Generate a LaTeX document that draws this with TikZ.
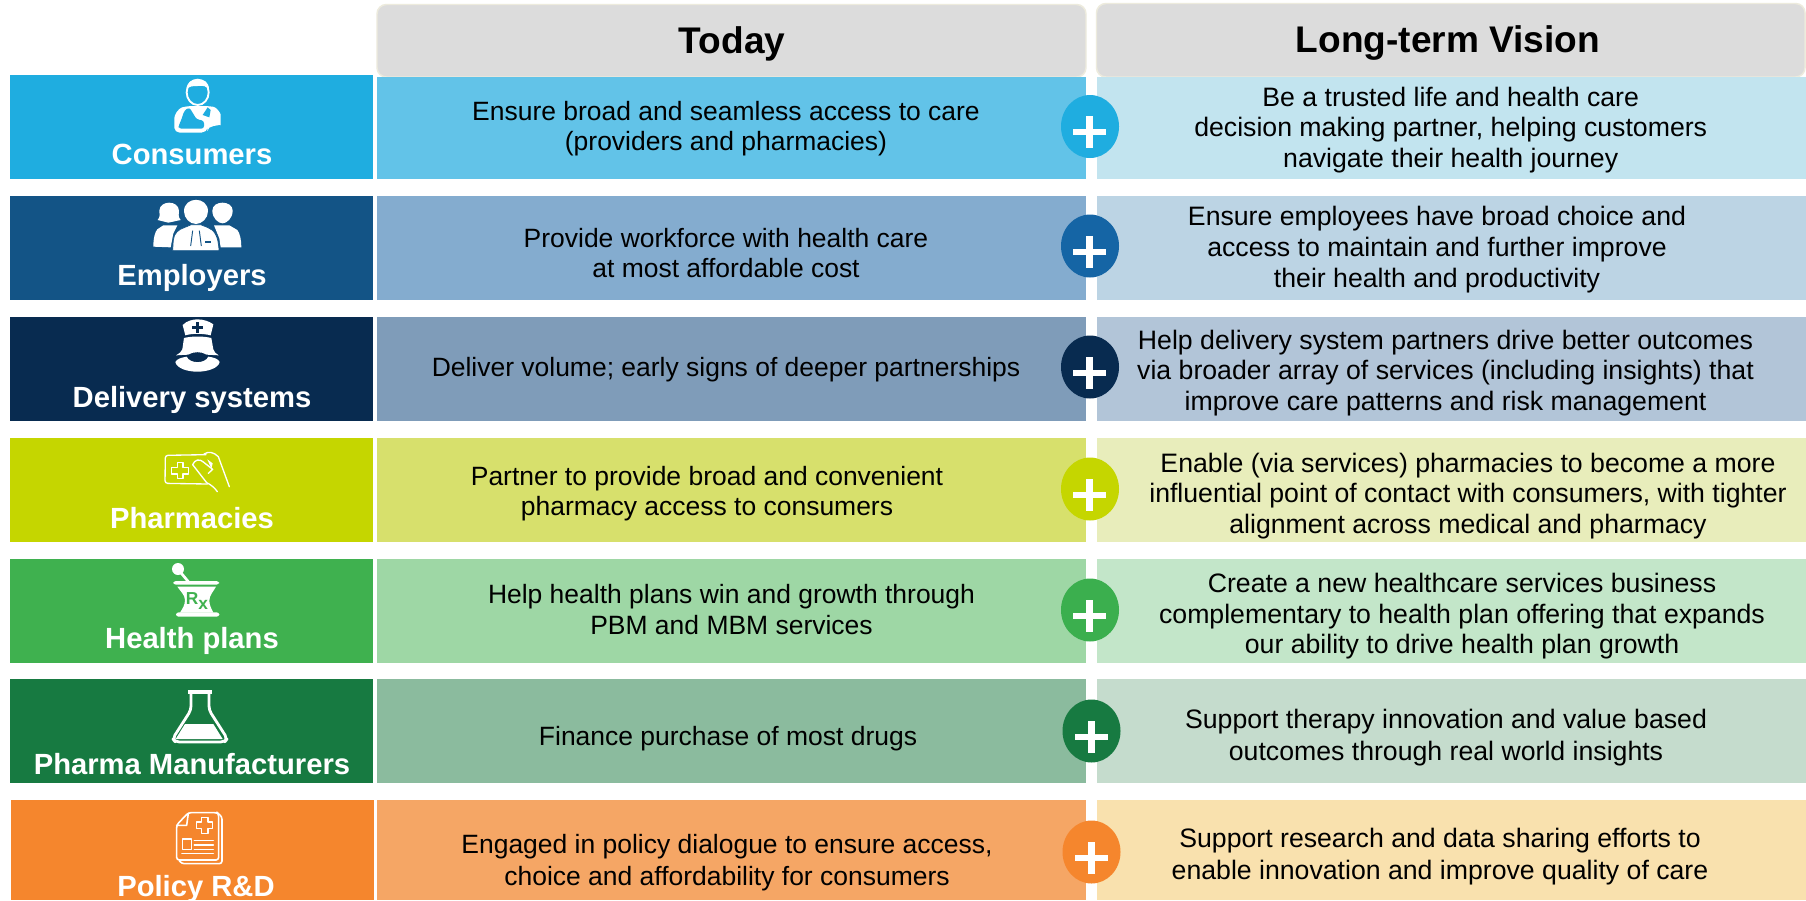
\documentclass[tikz,border=0pt]{standalone}
\usepackage{fontspec}
\setmainfont{Liberation Sans}
\definecolor{cA}{HTML}{1FADE0}\definecolor{cB}{HTML}{135486}\definecolor{cC}{HTML}{082B50}\definecolor{cD}{HTML}{C5D600}\definecolor{cE}{HTML}{3FB14F}\definecolor{cF}{HTML}{177A41}\definecolor{cG}{HTML}{F5862D}
\definecolor{mA}{HTML}{62C3E8}\definecolor{mB}{HTML}{84ACCF}\definecolor{mC}{HTML}{7F9CB9}\definecolor{mD}{HTML}{D7E06C}\definecolor{mE}{HTML}{9ED7A5}\definecolor{mF}{HTML}{8BBB9E}\definecolor{mG}{HTML}{F5A665}
\definecolor{rA}{HTML}{C2E4EF}\definecolor{rB}{HTML}{BCD4E4}\definecolor{rC}{HTML}{B2C5D8}\definecolor{rD}{HTML}{E8EDBB}\definecolor{rE}{HTML}{C3E6C9}\definecolor{rF}{HTML}{C5DCCD}\definecolor{rG}{HTML}{F9E1AE}
\definecolor{pB}{HTML}{1565A5}\definecolor{pE}{HTML}{3BAF4E}
\definecolor{headfill}{HTML}{DCDCDC}\definecolor{headline}{HTML}{EDEBDD}
\tikzset{
 bodytext/.style={anchor=north,inner sep=0pt,align=center,text=black,font=\fontsize{19.85pt}{23pt}\selectfont},
 visiontext/.style={bodytext,font=\fontsize{20pt}{23pt}\selectfont},
 rowlabel/.style={anchor=base,inner sep=0pt,text=white,font=\fontsize{21.9pt}{26pt}\selectfont\bfseries},
 headtext/.style={anchor=base,inner sep=0pt,text=black,font=\fontsize{27.8pt}{30pt}\selectfont\bfseries},
 headbox/.style={fill=headfill,draw=headline,line width=1.1pt,rounded corners=7pt},
 icon/.style={x=0.25pt,y=-0.25pt},
 thinicon/.style={draw=white,line width=1pt,line cap=round,line join=round},
}
% name, x, first baseline, text
\newcommand\bodyat[4]{\node[bodytext] (#1) at (#2,{#3-20.6}) {\strut #4\strut};}
\newcommand\visionat[4]{\node[visiontext] (#1) at (#2,{#3-20.6}) {\strut #4\strut};}
% x-centre, y-centre, disc colour
\newcommand\plusdisc[3]{%
 \fill[#3] (#1,#2) ellipse [x radius=29,y radius=31.5];
 \fill[white] ({#1-17},{#2+2.5}) rectangle ({#1+16},{#2+8.5});
 \fill[white] ({#1-4},{#2-10.5}) rectangle ({#1+3},{#2+21.5});
}
\begin{document}
\begin{tikzpicture}[x=0.75pt,y=-0.75pt]
\useasboundingbox (0,0) rectangle (1806,900);
\fill[white] (0,0) rectangle (1806,900);
\begin{scope}
\clip (0,0) rectangle (1806,900);
% headers
\draw[headbox] (377,77) -- (377,4.5) -- (1086,4.5) -- (1086,77) -- cycle;
\draw[headbox] (1096.5,77) -- (1096.5,3.5) -- (1805,3.5) -- (1805,77) -- cycle;
\node[headtext] (today) at (732,53) {Today};
\node[headtext] (vision) at (1448,52) {Long-term Vision};
% rows
\fill[cA] (10,75) rectangle (373,179);
\fill[cB] (10,196) rectangle (373,300);
\fill[cC] (10,317) rectangle (373,421);
\fill[cD] (10,438) rectangle (373,542);
\fill[cE] (10,559) rectangle (373,663);
\fill[cF] (10,679) rectangle (373,783);
\fill[cG] (11,800) rectangle (374,900);
\fill[mA] (377,77) rectangle (1086,179);
\fill[mB] (377,196) rectangle (1086,300);
\fill[mC] (377,317) rectangle (1086,421);
\fill[mD] (377,438) rectangle (1086,542);
\fill[mE] (377,559) rectangle (1086,663);
\fill[mF] (377,679) rectangle (1086,783);
\fill[mG] (377,800) rectangle (1086,900);
\fill[rA] (1096.5,77) rectangle (1806,179);
\fill[rB] (1096.5,196) rectangle (1806,300);
\fill[rC] (1096.5,317) rectangle (1806,421);
\fill[rD] (1096.5,438) rectangle (1806,542);
\fill[rE] (1096.5,559) rectangle (1806,663);
\fill[rF] (1096.5,679) rectangle (1806,783);
\fill[rG] (1096.5,800) rectangle (1806,900);
% plus discs
\plusdisc{1090}{126.5}{cA}
\plusdisc{1090}{246}{pB}
\plusdisc{1090}{367}{cC}
\plusdisc{1090}{489}{cD}
\plusdisc{1090}{610}{pE}
\plusdisc{1091.5}{731}{cF}
\plusdisc{1091.5}{852}{cG}
% row labels
\node[rowlabel] (l1) at (192,164.5) {Consumers};
\node[rowlabel] (l2) at (192,285.5) {Employers};
\node[rowlabel] (l3) at (192,407) {Delivery systems};
\node[rowlabel] (l4) at (192,528) {Pharmacies};
\node[rowlabel] (l5) at (192,648.5) {Health plans};
\node[rowlabel] (l6) at (192,774) {Pharma Manufacturers};
\node[rowlabel] (l7) at (196,896) {Policy R\&D};
% today text
\bodyat{t1}{726}{119}{Ensure broad and seamless access to care\\(providers and pharmacies)}
\bodyat{t2}{726}{246}{Provide workforce with health care\\at most affordable cost}
\bodyat{t3}{726}{375.7}{Deliver volume; early signs of deeper partnerships}
\bodyat{t4}{707}{484}{Partner to provide broad and convenient\\pharmacy access to consumers}
\bodyat{t5}{731.5}{602.4}{Help health plans win and growth through\\PBM and MBM services}
\bodyat{t6}{728}{744.3}{Finance purchase of most drugs}
\bodyat{t7}{727}{852.7}{Engaged in policy dialogue to ensure access,\\[1pt]choice and affordability for consumers}
% vision text
\visionat{v1}{1450.7}{105}{Be a trusted life and health care\\decision making partner, helping customers\\navigate their health journey}
\visionat{v2}{1437}{224.7}{Ensure employees have broad choice and\\access to maintain and further improve\\their health and productivity}
\visionat{v3}{1445.5}{348}{Help delivery system partners drive better outcomes\\via broader array of services (including insights) that\\improve care patterns and risk management}
\visionat{v4}{1468}{471}{Enable (via services) pharmacies to become a more\\influential point of contact with consumers, with tighter\\alignment across medical and pharmacy}
\visionat{v5}{1462}{591.3}{Create a new healthcare services business\\complementary to health plan offering that expands\\our ability to drive health plan growth}
\visionat{v6}{1446}{727}{Support therapy innovation and value based\\[1pt]outcomes through real world insights}
\visionat{v7}{1440}{846.7}{Support research and data sharing efforts to\\[1pt]enable innovation and improve quality of care}
% icon: consumer
\begin{scope}[icon]
\draw[white,line width=1.4pt] (593,277) ellipse [x radius=33,y radius=38];
\fill[white] (560,270) .. controls (560,245) and (575,238) .. (593,238) .. controls (612,238) and (627,245) .. (627,270) .. controls (620,258) and (610,256) .. (593,258) .. controls (578,258) and (566,258) .. (560,270) -- cycle;
\fill[white,rounded corners=4pt] (562,318) .. controls (535,325) and (523,345) .. (523,370) -- (523,398) -- (620,398) -- (625,378) .. controls (650,378) and (662,372) .. (662,360) .. controls (662,340) and (650,322) .. (625,318) -- cycle;
\fill[cA,rounded corners=2pt] (553,332) -- (543,362) -- (536,376) -- (536,386) -- (612,386) -- (612,362) -- (590,358) -- (568,322) -- cycle;
\fill[cA] (623,322) -- (632,330) -- (628,352) -- (608,345) -- cycle;
\end{scope}
% icon: employers
\begin{scope}[icon]
\fill[white] (473,660) .. controls (482,650) and (478,640) .. (478,632) .. controls (480,600) and (535,600) .. (537,632) .. controls (537,640) and (533,650) .. (542,660) -- (505,668) -- cycle;
\fill[white] (460,740) .. controls (460,715) and (465,695) .. (472,688) -- (490,676) -- (532,676) -- (520,700) -- (512,742) -- cycle;
\fill[white] (637,632) .. controls (637,600) and (698,600) .. (698,632) .. controls (698,655) and (680,670) .. (668,670) .. controls (655,670) and (637,655) .. (637,632) -- cycle;
\fill[white] (642,676) -- (688,676) -- (712,690) .. controls (720,700) and (724,720) .. (724,742) -- (662,742) -- (658,715) -- cycle;
\fill[white] (552,634) .. controls (552,588) and (624,588) .. (624,634) .. controls (624,655) and (605,672) .. (588,672) .. controls (570,672) and (552,655) .. (552,634) -- cycle;
\fill[white,draw=cB,line width=.5pt] (518,752) -- (520,720) .. controls (522,700) and (535,688) .. (555,682) -- (574,674) -- (602,674) -- (622,682) .. controls (642,690) and (655,705) .. (657,752) -- cycle;
\draw[cB,line width=.7pt] (578,692) -- (572,738);
\draw[cB,line width=.7pt] (598,692) -- (604,738);
\fill[cB] (614,724) rectangle (634,730);
\end{scope}
% icon: nurse
\begin{scope}[shift={(0,310)},icon]
\fill[white] (548,45) .. controls (560,32) and (580,28) .. (592,28) .. controls (610,28) and (628,34) .. (640,43) -- (632,76) .. controls (610,70) and (575,70) .. (556,76) -- cycle;
\fill[cC] (587,37) rectangle (598,68);
\fill[cC] (576,47) rectangle (610,58);
\fill[white] (552,84) .. controls (575,78) and (610,78) .. (634,84) -- (640,118) .. controls (642,125) and (648,132) .. (656,136) -- (620,134) .. controls (605,124) and (580,124) .. (564,134) -- (528,136) .. controls (538,130) and (545,125) .. (547,118) -- cycle;
\fill[white] (526,156) .. controls (530,146) and (548,142) .. (560,140) .. controls (570,162) and (615,162) .. (625,140) .. controls (640,142) and (655,146) .. (659,156) .. controls (655,175) and (622,185) .. (592,185) .. controls (562,185) and (530,175) .. (526,156) -- cycle;
\end{scope}
% icon: pharmacy card and hand
\begin{scope}[shift={(0,310)},icon]
\draw[thinicon,rounded corners=2pt] (618,434) -- (496,436) -- (495,520) -- (622,522);
\draw[thinicon] (532,458) -- (549,458) -- (549,472) -- (566,472) -- (566,492) -- (549,492) -- (549,506) -- (532,506) -- (532,492) -- (515,492) -- (515,472) -- (532,472) -- cycle;
\draw[thinicon] (578,464) .. controls (584,448) and (600,446) .. (610,456) -- (638,478) -- (625,490);
\draw[thinicon] (578,464) -- (620,518) .. controls (635,525) and (645,535) .. (652,545);
\draw[thinicon] (612,432) .. controls (625,424) and (640,425) .. (655,440) -- (688,530);
\fill[white] (622,448) -- (638,460) -- (634,476) -- cycle;
\end{scope}
% icon: mortar
\begin{scope}[shift={(0,550)},icon]
\fill[white] (534,57) circle [radius=18];
\draw[white,line width=2pt] (540,65) -- (565,95);
\fill[white,rounded corners=2pt] (520,93) rectangle (657,104);
\fill[white] (532,110) -- (648,110) .. controls (640,125) and (628,135) .. (628,152) .. controls (628,165) and (635,178) .. (640,188) -- (540,188) .. controls (548,175) and (555,165) .. (555,150) .. controls (555,135) and (540,122) .. (532,110) -- cycle;
\fill[white,rounded corners=2pt] (528,187) rectangle (658,200);
\node[inner sep=0pt,text=cE,font=\fontsize{13pt}{13pt}\selectfont\bfseries] (rx) at (591,153) {R\raisebox{-.45ex}{x}};
\end{scope}
% icon: flask
\begin{scope}[shift={(0,550)},icon]
\fill[white] (564,421) rectangle (636,432);
\draw[white,line width=2.1pt,line join=round,rounded corners=3pt] (573,432) -- (573,480) -- (518,566) -- (526,576) -- (674,576) -- (682,566) -- (627,480) -- (627,432);
\fill[white] (555,522) -- (640,522) -- (668,567) -- (527,567) -- cycle;
\end{scope}
% icon: document
\begin{scope}[shift={(0,550)},icon]
\draw[thinicon,line width=1.2pt,rounded corners=2pt] (530,825) -- (565,788) -- (652,788) -- (656,792) -- (656,930) -- (530,930) -- cycle;
\draw[thinicon,line width=1.2pt,rounded corners=2pt] (660,795) -- (666,800) -- (666,941) -- (545,941) -- (538,932);
\draw[thinicon,line width=1.2pt] (530,826) -- (560,826) -- (565,790);
\draw[thinicon,line width=1.2pt] (604,802) -- (624,802) -- (624,816) -- (638,816) -- (638,836) -- (624,836) -- (624,850) -- (604,850) -- (604,836) -- (590,836) -- (590,816) -- (604,816) -- cycle;
\draw[thinicon,line width=1.2pt] (548,867) rectangle (574,899);
\draw[thinicon,line width=1.2pt] (583,871) -- (640,871) (583,885) -- (640,885) (583,898) -- (640,898) (546,910) -- (640,910);
\end{scope}
\end{scope}
\end{tikzpicture}
\end{document}
